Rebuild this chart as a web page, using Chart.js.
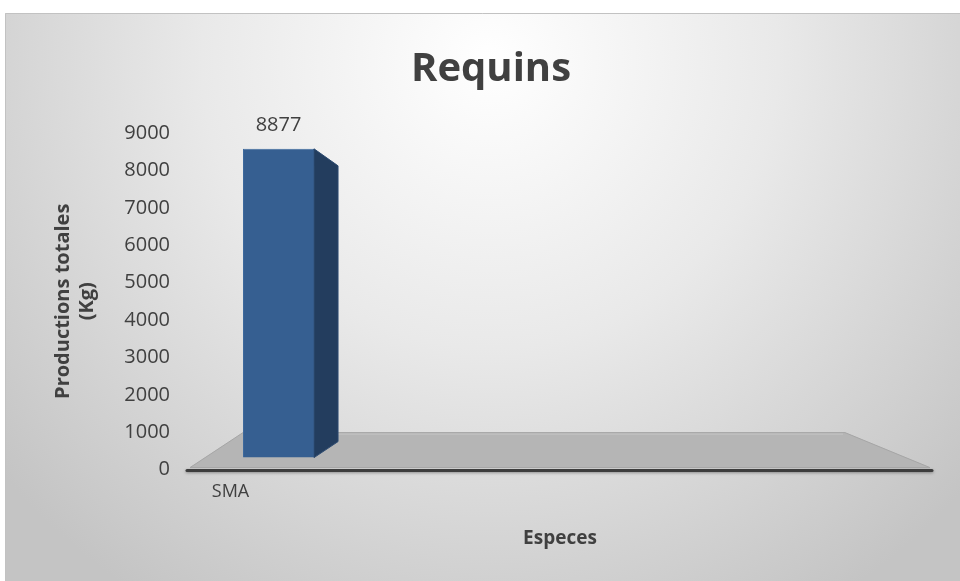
<!DOCTYPE html>
<html lang="fr">
<head>
    <meta charset="UTF-8">
    <title>Requins</title>
    <style>
        html, body {
            margin: 0;
            padding: 0;
            background: #ffffff;
        }

        .chart-box {
            position: relative;
            width: 960px;
            height: 581px;
        }
    </style>
</head>
<body>
    <div class="chart-box">
        <canvas id="requinsChart"></canvas>
    </div>

    <script src="https://cdn.jsdelivr.net/npm/chart.js"></script>
    <script>
        // data
        const chartTitle = 'Requins';
        const categories = ['SMA', '', '', ''];
        const productions = [8877, null, null, null];
        const yTickValues = [0, 1000, 2000, 3000, 4000, 5000, 6000, 7000, 8000, 9000];

        const textColor = '#404040';
        const font = "'Open Sans', 'DejaVu Sans', sans-serif";

        // the front face of the 3D bar sits a bit in front of the back wall
        const FRONT = { dx: -4, dy: -12, k: 0.93 };
        const SIDE = { w: 24, top: 17, bottom: 16 };

        function frontY(y, area) {
            return area.bottom + FRONT.dy + FRONT.k * (y - area.bottom);
        }

        const backgroundPlugin = {
            id: 'cardBackground',
            beforeDraw(chart) {
                const ctx = chart.ctx;
                const w = chart.width, h = chart.height;
                ctx.save();
                ctx.fillStyle = '#ffffff';
                ctx.fillRect(0, 0, w, h);
                const g = ctx.createRadialGradient(490, 60, 0, 490, 60, 640);
                g.addColorStop(0, '#ffffff');
                g.addColorStop(0.45, '#e9e9e9');
                g.addColorStop(1, '#c4c4c4');
                ctx.fillStyle = g;
                ctx.fillRect(5, 13, w - 5, h - 13);
                ctx.strokeStyle = '#c2c2c2';
                ctx.lineWidth = 1;
                ctx.beginPath();
                ctx.moveTo(5.5, h);
                ctx.lineTo(5.5, 13.5);
                ctx.lineTo(w, 13.5);
                ctx.stroke();
                // chart title, centred on the whole card
                ctx.fillStyle = textColor;
                ctx.font = "bold 40px " + font;
                ctx.textAlign = 'center';
                ctx.textBaseline = 'alphabetic';
                ctx.fillText(chartTitle, 491, 81);
                ctx.restore();
            }
        };

        const floor3dPlugin = {
            id: 'floor3d',
            beforeDatasetsDraw(chart) {
                const ctx = chart.ctx;
                const a = chart.chartArea;
                ctx.save();
                // floor
                ctx.beginPath();
                ctx.moveTo(a.left, a.bottom - 2);
                ctx.lineTo(a.left + 53, a.bottom - 37);
                ctx.lineTo(a.right - 85, a.bottom - 37);
                ctx.lineTo(a.right, a.bottom - 2);
                ctx.closePath();
                ctx.fillStyle = '#b5b5b5';
                ctx.fill();
                ctx.strokeStyle = '#a6a6a6';
                ctx.lineWidth = 1;
                ctx.stroke();
                ctx.beginPath();
                ctx.moveTo(a.left + 55, a.bottom - 35.5);
                ctx.lineTo(a.right - 87, a.bottom - 35.5);
                ctx.strokeStyle = '#c4c4c4';
                ctx.stroke();
                // dark front edge
                ctx.shadowColor = 'rgba(0,0,0,0.35)';
                ctx.shadowBlur = 3;
                ctx.shadowOffsetY = 1;
                ctx.beginPath();
                ctx.moveTo(a.left - 3, a.bottom + 1);
                ctx.lineTo(a.right + 2, a.bottom + 1);
                ctx.strokeStyle = '#3d3d3d';
                ctx.lineWidth = 3;
                ctx.lineCap = 'round';
                ctx.stroke();
                ctx.restore();

                // bars are drawn through the scales, then pushed to the front plane
                ctx.save();
                ctx.translate(FRONT.dx, a.bottom + FRONT.dy);
                ctx.scale(1, FRONT.k);
                ctx.translate(0, -a.bottom);
            },
            afterDatasetsDraw(chart) {
                const ctx = chart.ctx;
                const a = chart.chartArea;
                ctx.restore();
                const meta = chart.getDatasetMeta(0);
                meta.data.forEach((bar, i) => {
                    if (productions[i] === null) return;
                    const p = bar.getProps(['x', 'y', 'base', 'width'], true);
                    const r = p.x + p.width / 2 + FRONT.dx;
                    const top = frontY(p.y, a);
                    const bot = frontY(p.base, a);
                    ctx.save();
                    ctx.beginPath();
                    ctx.moveTo(r, top);
                    ctx.lineTo(r + SIDE.w, top + SIDE.top);
                    ctx.lineTo(r + SIDE.w, bot - SIDE.bottom);
                    ctx.lineTo(r, bot);
                    ctx.closePath();
                    ctx.fillStyle = '#233d5e';
                    ctx.fill();
                    ctx.strokeStyle = '#2c4a70';
                    ctx.lineWidth = 1;
                    ctx.stroke();
                    // value label
                    ctx.fillStyle = textColor;
                    ctx.font = "20px " + font;
                    ctx.textAlign = 'center';
                    ctx.textBaseline = 'middle';
                    ctx.fillText(String(productions[i]), p.x + FRONT.dx, top - 24);
                    ctx.restore();
                });
            }
        };

        const ctx1 = document.getElementById('requinsChart').getContext('2d');
        const requinsChart = new Chart(ctx1, {
            type: 'bar',
            data: {
                labels: categories,
                datasets: [{
                    label: 'Productions totales (Kg)',
                    data: productions,
                    backgroundColor: '#365f91',
                    borderColor: '#3e6a9e',
                    borderWidth: 1,
                    barPercentage: 0.384,
                    categoryPercentage: 1,
                    clip: false
                }]
            },
            options: {
                responsive: true,
                maintainAspectRatio: false,
                animation: false,
                layout: {
                    padding: { left: 5, right: 30, top: 133, bottom: 31 }
                },
                plugins: {
                    legend: { display: false },
                    tooltip: { enabled: false },
                    title: { display: false }
                },
                scales: {
                    x: {
                        grid: { display: false, drawTicks: false },
                        border: { display: false },
                        ticks: {
                            color: textColor,
                            font: { family: font, size: 18 },
                            padding: 11,
                            labelOffset: -52,
                            maxRotation: 0
                        },
                        title: {
                            display: true,
                            text: 'Especes',
                            color: textColor,
                            font: { family: font, size: 19, weight: 'bold' },
                            padding: { top: 14, bottom: 0 }
                        }
                    },
                    y: {
                        min: 0,
                        max: 9000,
                        afterBuildTicks: scale => {
                            scale.ticks = yTickValues.map(v => ({ value: v }));
                        },
                        afterFit: scale => {
                            scale.width = 185;
                        },
                        grid: { display: false, drawTicks: false },
                        border: { display: false },
                        ticks: {
                            color: textColor,
                            font: { family: font, size: 20 },
                            padding: 20,
                            callback: v => String(v)
                        },
                        title: {
                            display: true,
                            text: ['Productions totales', '(Kg)'],
                            color: textColor,
                            font: { family: font, size: 20, weight: 'bold' },
                            padding: { top: 46, bottom: 0 }
                        }
                    }
                }
            },
            plugins: [backgroundPlugin, floor3dPlugin]
        });
    </script>
</body>
</html>
